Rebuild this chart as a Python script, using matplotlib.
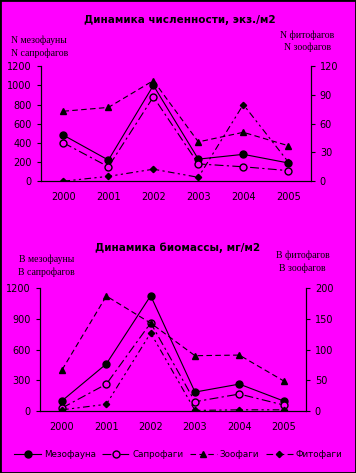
import matplotlib.pyplot as plt
from matplotlib.patches import Rectangle

years = ["2000", "2001", "2002", "2003", "2004", "2005"]

# численность, экз./м2
n_meso = [480, 220, 1000, 230, 280, 190]
n_sapro = [400, 150, 880, 180, 150, 110]
n_zoo = [73, 77, 105, 41, 51, 37]
n_phyto = [0, 5, 12.5, 4, 80, 20]

# биомасса, мг/м2
b_meso = [100, 460, 1125, 185, 263, 98]
b_sapro = [30, 263, 860, 91, 166, 59]
b_zoo = [67, 187, 143, 90, 91, 49]
b_phyto = [2, 11, 127, 1, 2, 2]

BG = "#ff00ff"
fs = 7

fig = plt.figure(figsize=(3.56, 4.73), dpi=100, facecolor=BG)
fig.patches.append(Rectangle((0, 0), 1, 1, transform=fig.transFigure,
                             fill=False, edgecolor="black", lw=2))

styles = {
    "meso": dict(color="black", lw=0.8, ls="-", marker="o", ms=5, mfc="black"),
    "sapro": dict(color="black", lw=0.8, ls=(0, (8, 3, 2, 3)), marker="o", ms=5, mfc=BG),
    "zoo": dict(color="black", lw=0.8, ls=(0, (5, 3)), marker="^", ms=5, mfc="black"),
    "phyto": dict(color="black", lw=0.8, ls=(0, (6, 3, 2, 3, 2, 3)), marker="D", ms=3.2, mfc="black"),
}


def draw(rect, left_data, right_data, lmax, lstep, rmax, rstep):
    ax = fig.add_axes(rect)
    ax2 = ax.twinx()
    x = range(len(years))
    h1, = ax.plot(x, left_data[0], **styles["meso"])
    h2, = ax.plot(x, left_data[1], **styles["sapro"])
    h3, = ax2.plot(x, right_data[0], **styles["zoo"])
    h4, = ax2.plot(x, right_data[1], **styles["phyto"])
    for a in (ax, ax2):
        a.set_facecolor("none")
        a.spines["top"].set_visible(False)
        for s in a.spines.values():
            s.set_linewidth(0.8)
        a.tick_params(labelsize=fs, length=3, width=0.8)
    ax.set_facecolor(BG)
    ax.set_xlim(-0.5, len(years) - 0.5)
    ax.set_xticks(list(x))
    ax.set_xticklabels(years)
    ax.tick_params(axis="x", length=0, pad=8)
    ax.set_ylim(0, lmax)
    ax.set_yticks(range(0, lmax + 1, lstep))
    ax2.set_ylim(0, rmax)
    ax2.set_yticks(range(0, rmax + 1, rstep))
    return [h1, h2, h3, h4]

draw([0.115, 0.617, 0.758, 0.243], [n_meso, n_sapro], [n_zoo, n_phyto],
     1200, 200, 120, 30)
handles = draw([0.112, 0.131, 0.747, 0.260], [b_meso, b_sapro], [b_zoo, b_phyto],
               1200, 300, 200, 50)

fig.text(0.505, 0.958, "Динамика численности, экз./м2", ha="center", va="center",
         fontsize=7.5, fontweight="bold")
fig.text(0.03, 0.901, "N мезофауны\nN сапрофагов", ha="left", va="center",
         fontsize=7, family="Liberation Serif", linespacing=1.4)
fig.text(0.94, 0.913, "N фитофагов\nN зоофагов", ha="right", va="center",
         fontsize=7, family="Liberation Serif", linespacing=1.4, multialignment="center")

fig.text(0.5, 0.476, "Динамика биомассы, мг/м2", ha="center", va="center",
         fontsize=7.5, fontweight="bold")
fig.text(0.05, 0.438, "B мезофауны\nB сапрофагов", ha="left", va="center",
         fontsize=7, family="Liberation Serif", linespacing=1.4, multialignment="center")
fig.text(0.925, 0.447, "B фитофагов\nB зоофагов", ha="right", va="center",
         fontsize=7, family="Liberation Serif", linespacing=1.4, multialignment="center")

fig.legend(handles, ["Мезофауна", "Сапрофаги", "Зоофаги", "Фитофаги"],
           loc="center", bbox_to_anchor=(0.5, 0.04), ncol=4, frameon=False,
           fontsize=6.3, handlelength=3.1, handletextpad=0.3, columnspacing=0.75)

fig.savefig("out.png", dpi=100, facecolor=BG)
